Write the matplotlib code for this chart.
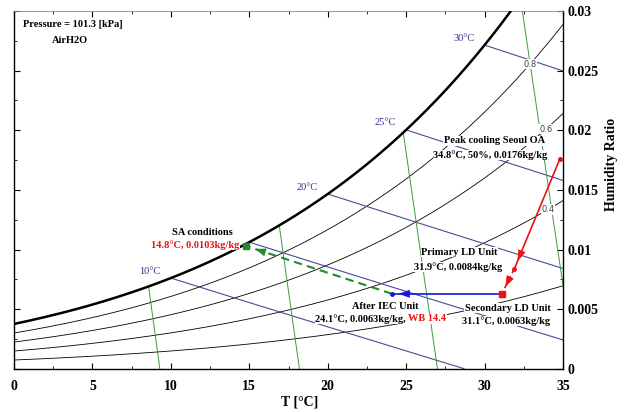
import numpy as np
import matplotlib.pyplot as plt
from matplotlib.ticker import MultipleLocator

P = 101.325  # kPa

# property line levels
rh_levels = [0.2, 0.4, 0.6, 0.8]
rh_label_T = {0.4: 34.05, 0.6: 33.9, 0.8: 32.9}
wb_levels = [10, 15, 20, 25, 30]
wb_labels = ['10°C', '', '20°C', '25°C', '30°C']
vol_T0 = [9.3, 18.2, 27.0, 35.8]  # green lines, T where w = 0

# process states
state_T = [34.8, 31.9, 31.1, 24.1, 14.8]
state_w = [0.0176, 0.0084, 0.0063, 0.0063, 0.0103]

plt.rcParams['font.family'] = ['Liberation Serif', 'DejaVu Serif']


def psat(t):
    return 0.61094 * np.exp(17.625 * t / (t + 243.04))


def w_of(t, rh):
    pv = rh * psat(t)
    return 0.622 * pv / (P - pv)


def w_wb(t, twb):
    ws = w_of(twb, 1.0)
    return ((2501 - 2.326 * twb) * ws - 1.006 * (t - twb)) / (2501 + 1.86 * t - 4.186 * twb)


fig = plt.figure(figsize=(6.25, 4.12), dpi=100)
ax = fig.add_axes([0.0224, 0.1044, 0.8784, 0.869])

T = np.linspace(0, 36, 400)

# saturation curve
ax.plot(T, w_of(T, 1.0), color='black', lw=1.8, zorder=3)

# relative humidity lines
for rh in rh_levels:
    ax.plot(T, w_of(T, rh), color='black', lw=0.6, zorder=2)
    if rh in rh_label_T:
        tl = rh_label_T[rh]
        ax.text(tl, w_of(tl, rh), str(rh), fontsize=6, color='#444444', family='DejaVu Sans',
                ha='center', va='center', zorder=4,
                bbox=dict(facecolor='white', edgecolor='none', pad=0.5))

# wet bulb lines
for twb, lab in zip(wb_levels, wb_labels):
    tt = np.linspace(twb, 36, 200)
    ww = w_wb(tt, twb)
    keep = ww >= 0
    ax.plot(tt[keep], ww[keep], color='#4a4a9a', lw=0.8, zorder=2)
    if lab:
        ax.annotate(lab, (twb, w_of(twb, 1.0)), xytext=(-15, 5), textcoords='offset points',
                    fontsize=7.5, color='#33338a', ha='center', va='center')

# green lines
ws_line = np.linspace(0, 0.031, 300)
for t0 in vol_T0:
    tt = (t0 + 273.15) / (1 + 0.37 * ws_line) - 273.15
    keep = ws_line <= w_of(tt, 1.0)
    ax.plot(tt[keep], ws_line[keep], color='#3f9a3f', lw=0.7, zorder=2)

red = '#ee1111'
blue = '#1515dd'
green = '#1f8a2f'


def arrow_head(i, j, frac, color):
    x0, y0 = state_T[i], state_w[i]
    x1, y1 = state_T[j], state_w[j]
    xt = x0 + frac * (x1 - x0)
    yt = y0 + frac * (y1 - y0)
    xs = x0 + (frac - 0.02) * (x1 - x0)
    ys = y0 + (frac - 0.02) * (y1 - y0)
    ax.annotate('', xy=(xt, yt), xytext=(xs, ys),
                arrowprops=dict(arrowstyle='-|>,head_length=0.7,head_width=0.25',
                                color=color, lw=0.5, shrinkA=0, shrinkB=0), zorder=6)


# process path
ax.plot(state_T[0:2], state_w[0:2], color=red, lw=1.2, zorder=5)
arrow_head(0, 1, 0.93, red)
ax.plot(state_T[1:3], state_w[1:3], color=red, lw=1.2, ls=(0, (3, 2)), zorder=5)
arrow_head(1, 2, 0.72, red)
ax.plot(state_T[2:4], state_w[2:4], color=blue, lw=1.2, zorder=5)
arrow_head(2, 3, 0.94, blue)
ax.plot(state_T[3:5], state_w[3:5], color=green, lw=1.5, ls=(0, (4, 2.5)), zorder=5)
arrow_head(3, 4, 0.94, green)

ax.plot(state_T[0], state_w[0], 'o', color=red, ms=2.5, zorder=7)
ax.plot(state_T[1], state_w[1], 'o', color=red, ms=2.5, zorder=7)
ax.plot(state_T[2], state_w[2], 's', color=red, ms=4.5, zorder=7)
ax.plot(state_T[3], state_w[3], 'o', color=blue, ms=2.5, zorder=7)
ax.plot(state_T[4], state_w[4], 's', color=green, ms=4.5, zorder=7)

# annotations
box = dict(facecolor='white', edgecolor='none', pad=0.3)
tkw = dict(fontsize=7.5, fontweight='bold', ha='center', va='center', zorder=4, bbox=box)
ax.text(0.57, 0.02883, 'Pressure = 101.3 [kPa]', fontsize=7.5, fontweight='bold', ha='left', va='center')
ax.text(2.42, 0.02749, 'AirH2O', fontsize=7.5, fontweight='bold', ha='left', va='center')
ax.text(30.63, 0.01911, 'Peak cooling Seoul OA', **tkw)
ax.text(30.35, 0.01793, '34.8°C, 50%, 0.0176kg/kg', **tkw)
ax.text(12.02, 0.0114, 'SA conditions', **tkw)
ax.text(11.57, 0.01039, '14.8°C, 0.0103kg/kg', color=red, **tkw)
ax.text(28.4, 0.0098, 'Primary LD Unit', **tkw)
ax.text(28.3, 0.00855, '31.9°C, 0.0084kg/kg', **tkw)
ax.text(31.46, 0.00511, 'Secondary LD Unit', **tkw)
ax.text(31.4, 0.00402, '31.1°C, 0.0063kg/kg', **tkw)
ax.text(23.65, 0.0052, 'After IEC Unit', **tkw)
t1 = ax.text(19.19, 0.00419, '24.1°C, 0.0063kg/kg, ', fontsize=7.5, fontweight='bold',
             ha='left', va='center', zorder=4, bbox=box)
ax.annotate('WB 14.4', xy=(1, 0.5), xycoords=t1, fontsize=7.5, fontweight='bold', color=red,
            ha='left', va='center', zorder=4, bbox=box)

ax.set_xlim(0, 35)
ax.set_ylim(0, 0.03)
ax.xaxis.set_major_locator(MultipleLocator(5))
ax.xaxis.set_minor_locator(MultipleLocator(2.5))
ax.yaxis.set_major_locator(MultipleLocator(0.005))
ax.yaxis.set_minor_locator(MultipleLocator(0.0025))
ax.yaxis.set_major_formatter(plt.FuncFormatter(lambda v, p: '0' if v == 0 else f'{v:g}'))
ax.tick_params(which='both', direction='in', top=True, right=True, left=True,
               labelleft=False, labelright=True, labelsize=10, pad=3)
ax.tick_params(axis='x', which='major', pad=8)
ax.tick_params(which='major', length=4)
ax.tick_params(which='minor', length=2.5)
for lab in ax.get_xticklabels() + ax.get_yticklabels():
    lab.set_fontweight('bold')

ax.set_xlabel('T [°C]', fontsize=10, fontweight='bold')
ax.yaxis.set_label_position('right')
ax.set_ylabel('Humidity Ratio', fontsize=10, fontweight='bold', rotation=90)
ax.yaxis.set_label_coords(1.076, 0.57)
ax.xaxis.set_label_coords(0.52, -0.075)
for s in ax.spines.values():
    s.set_linewidth(1.0)
ax.spines['top'].set_color('#888888')
ax.spines['top'].set_linewidth(0.6)

fig.savefig('out.png', dpi=100)
